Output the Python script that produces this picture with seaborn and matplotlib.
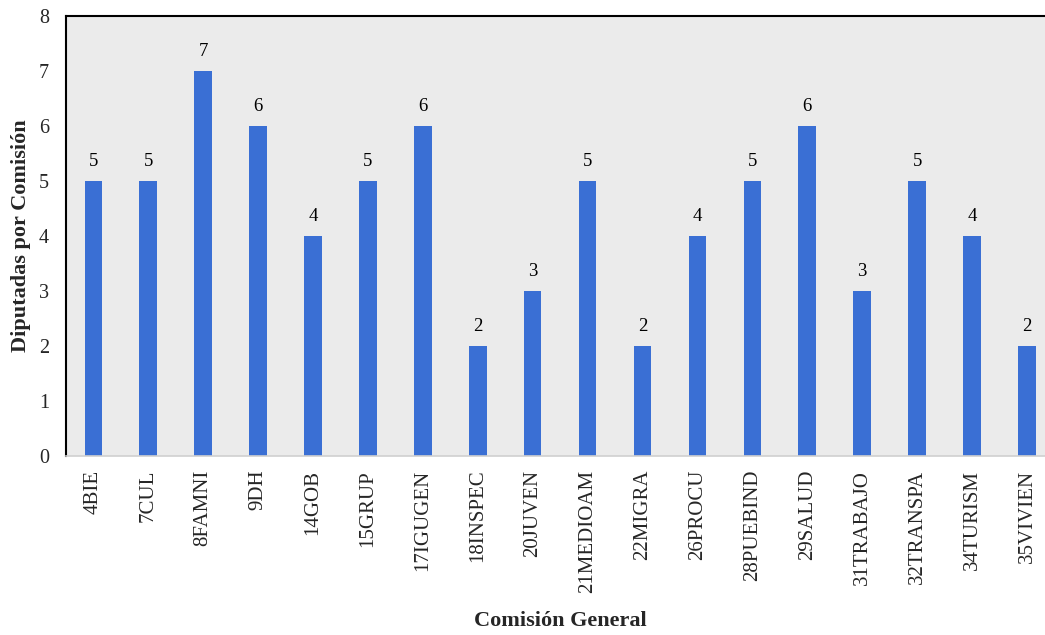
import matplotlib
matplotlib.use("Agg")
import matplotlib.pyplot as plt
import seaborn as sns
import pandas as pd

comisiones = ["4BIE", "7CUL", "8FAMNI", "9DH", "14GOB", "15GRUP", "17IGUGEN",
              "18INSPEC", "20JUVEN", "21MEDIOAM", "22MIGRA", "26PROCU",
              "28PUEBIND", "29SALUD", "31TRABAJO", "32TRANSPA", "34TURISM",
              "35VIVIEN"]
diputadas = [5, 5, 7, 6, 4, 5, 6, 2, 3, 5, 2, 4, 5, 6, 3, 5, 4, 2]

df = pd.DataFrame({"comision": comisiones, "diputadas": diputadas})

sns.set_theme(style="white")
plt.rcParams["font.family"] = ["Liberation Serif", "DejaVu Serif"]

fig = plt.figure(figsize=(10.45, 6.35), dpi=100)
ax = fig.add_axes([0.063, 0.282, 0.946, 0.693])
ax.set_facecolor("#ebebeb")

sns.barplot(data=df, x="comision", y="diputadas", color="#3a6fd4",
            width=0.32, saturation=1, linewidth=0, ax=ax)

for i, v in enumerate(diputadas):
    ax.text(i, v + 0.2, str(v), ha="center", va="bottom", fontsize=13.5,
            color="black")

ax.set_ylim(0, 8)
ax.set_xlim(-0.5, len(comisiones) - 0.5)
ax.set_yticks(range(0, 9))
ax.tick_params(axis="y", labelsize=14.5, length=0, pad=12)
ax.tick_params(axis="x", labelsize=15, length=0, pad=10, rotation=90)

for side in ["left", "top"]:
    ax.spines[side].set_color("black")
    ax.spines[side].set_linewidth(1.5)
ax.spines["bottom"].set_color("#d0d0d0")
ax.spines["bottom"].set_linewidth(1.2)
ax.spines["right"].set_visible(False)

ax.set_xlabel("Comisión General", fontsize=16, fontweight="bold", labelpad=13)
ax.set_ylabel("Diputadas por Comisión", fontsize=16, fontweight="bold",
              labelpad=6)

fig.savefig("out.png", dpi=100)
